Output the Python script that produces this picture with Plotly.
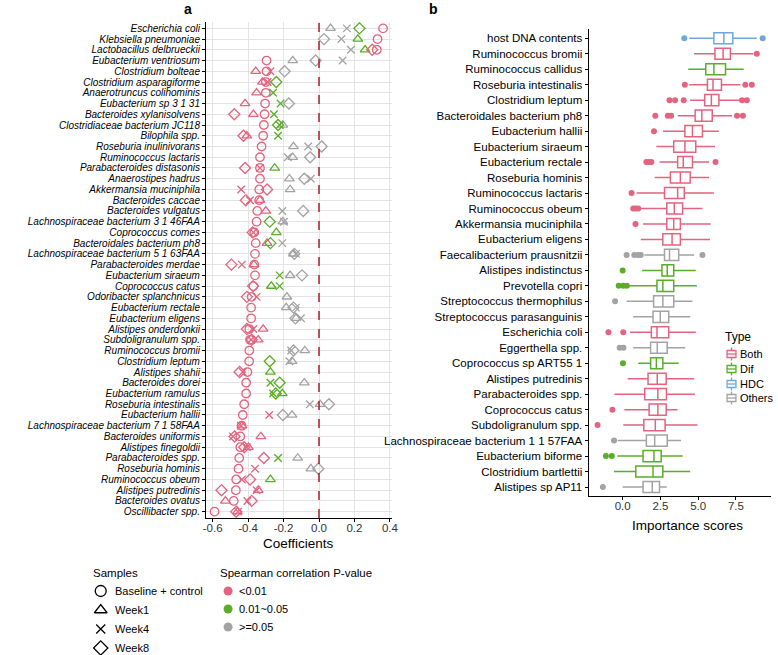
import plotly.graph_objects as go

W, H = 778, 655
RED, GREEN, GRAY, BLUE = "#E4637E", "#5AAE27", "#A3A3A3", "#6EA8DC"
FONT = "Liberation Sans, Arial, sans-serif"

# ---------------- Panel a data ----------------
species_a = [
    "Escherichia coli", "Klebsiella pneumoniae", "Lactobacillus delbrueckii",
    "Eubacterium ventriosum", "Clostridium bolteae", "Clostridium asparagiforme",
    "Anaerotruncus colihominis", "Eubacterium sp 3 1 31", "Bacteroides xylanisolvens",
    "Clostridiaceae bacterium JC118", "Bilophila spp.", "Roseburia inulinivorans",
    "Ruminococcus lactaris", "Parabacteroides distasonis", "Anaerostipes hadrus",
    "Akkermansia muciniphila", "Bacteroides caccae", "Bacteroides vulgatus",
    "Lachnospiraceae bacterium 3 1 46FAA", "Coprococcus comes", "Bacteroidales bacterium ph8",
    "Lachnospiraceae bacterium 5 1 63FAA", "Parabacteroides merdae", "Eubacterium siraeum",
    "Coprococcus catus", "Odoribacter splanchnicus", "Eubacterium rectale",
    "Eubacterium eligens", "Alistipes onderdonkii", "Subdoligranulum spp.",
    "Ruminococcus bromii", "Clostridium leptum", "Alistipes shahii", "Bacteroides dorei",
    "Eubacterium ramulus", "Roseburia intestinalis", "Eubacterium hallii",
    "Lachnospiraceae bacterium 7 1 58FAA", "Bacteroides uniformis", "Alistipes finegoldii",
    "Parabacteroides spp.", "Roseburia hominis", "Ruminococcus obeum",
    "Alistipes putredinis", "Bacteroides ovatus", "Oscillibacter spp.",
]
base_coef = [0.361, 0.33, 0.326, -0.296, -0.296, -0.30, -0.30, -0.304, -0.307, -0.311,
             -0.315, -0.324, -0.333, -0.333, -0.333, -0.337, -0.337, -0.348, -0.352, -0.365,
             -0.357, -0.361, -0.365, -0.361, -0.37, -0.38, -0.383, -0.383, -0.393, -0.389,
             -0.393, -0.394, -0.404, -0.411, -0.411, -0.422, -0.43, -0.437, -0.444, -0.444,
             -0.45, -0.454, -0.467, -0.469, -0.481, -0.589]
base_p = ["r"] * 46
week1_coef = [0.065, 0.219, 0.26, -0.148, -0.357, -0.319, -0.352, -0.417, -0.37, -0.204,
              -0.407, -0.144, -0.148, -0.25, -0.167, -0.163, -0.333, -0.30, -0.204, -0.241,
              -0.293, -0.144, -0.367, -0.163, -0.269, -0.181, -0.185, -0.13, -0.315, -0.343,
              -0.08, -0.152, -0.274, -0.083, -0.207, 0.006, -0.152, -0.435, -0.328, -0.398,
              -0.12, -0.046, -0.274, -0.343, -0.528, -0.46]
week1_p = ["k", "g", "g", "k", "r", "r", "r", "r", "r", "k",
           "r", "k", "k", "g", "k", "k", "r", "r", "k", "g",
           "r", "k", "r", "k", "g", "k", "k", "k", "r", "r",
           "k", "k", "g", "k", "g", "k", "k", "r", "r", "r",
           "k", "k", "g", "r", "r", "r"]
week4_coef = [0.157, 0.126, 0.18, 0.133, -0.274, -0.29, -0.259, -0.217, -0.254, -0.222,
              -0.231, -0.061, -0.176, -0.333, -0.046, -0.439, -0.389, -0.207, -0.198, -0.37,
              -0.207, -0.13, -0.435, -0.222, -0.222, -0.352, -0.13, -0.102, -0.37, -0.383,
              -0.157, -0.167, -0.43, -0.274, -0.259, -0.052, -0.281, -0.44, -0.485, -0.407,
              -0.231, -0.361, -0.435, -0.352, -0.404, -0.457]
week4_p = ["k", "k", "k", "k", "r", "r", "g", "g", "g", "g",
           "g", "k", "k", "r", "k", "r", "r", "k", "k", "r",
           "k", "k", "r", "g", "g", "r", "k", "k", "r", "r",
           "k", "k", "r", "g", "g", "k", "r", "r", "r", "r",
           "g", "r", "r", "r", "r", "r"]
week8_coef = [0.228, 0.028, 0.30, -0.019, -0.194, -0.241, None, -0.17, -0.478, -0.231,
              -0.426, 0.015, -0.05, -0.417, -0.083, -0.293, -0.413, -0.089, -0.278, -0.374,
              -0.274, -0.139, -0.494, -0.096, -0.372, -0.407, -0.144, -0.133, -0.407, -0.38,
              -0.144, -0.278, -0.448, -0.222, -0.244, 0.056, -0.204, None, -0.476, -0.422,
              -0.311, -0.004, -0.389, -0.55, -0.38, -0.467]
week8_p = ["g", "k", "r", "k", "k", "g", "k", "k", "r", "g",
           "r", "k", "k", "r", "k", "r", "r", "k", "g", "r",
           "g", "k", "r", "k", "r", "r", "k", "k", "r", "r",
           "k", "g", "r", "g", "g", "k", "k", "r", "r", "r",
           "r", "k", "r", "r", "r", "r"]

sample_names = ["Baseline + control", "Week1", "Week4", "Week8"]
p_labels = ["<0.01", "0.01~0.05", ">=0.05"]

# ---------------- Panel b data ----------------
species_b = [
    "host DNA contents", "Ruminococcus bromii", "Ruminococcus callidus", "Roseburia intestinalis",
    "Clostridium leptum", "Bacteroidales bacterium ph8", "Eubacterium hallii", "Eubacterium siraeum",
    "Eubacterium rectale", "Roseburia hominis", "Ruminococcus lactaris", "Ruminococcus obeum",
    "Akkermansia muciniphila", "Eubacterium eligens", "Faecalibacterium prausnitzii",
    "Alistipes indistinctus", "Prevotella copri", "Streptococcus thermophilus",
    "Streptococcus parasanguinis", "Escherichia coli", "Eggerthella spp.", "Coprococcus sp ART55 1",
    "Alistipes putredinis", "Parabacteroides spp.", "Coprococcus catus", "Subdoligranulum spp.",
    "Lachnospiraceae bacterium 1 1 57FAA", "Eubacterium biforme", "Clostridium bartlettii",
    "Alistipes sp AP11",
]
type_b = ["HDC", "Both", "Dif", "Both", "Both", "Both", "Both", "Both", "Both", "Both",
          "Both", "Both", "Both", "Both", "Others", "Dif", "Dif", "Others", "Others", "Both",
          "Others", "Dif", "Both", "Both", "Both", "Both", "Others", "Dif", "Dif", "Others"]
low_b = [4.41, 4.73, 4.34, 4.41, 4.47, 3.64, 2.66, 2.23, 2.44, 2.12,
         0.92, 1.13, 1.35, 1.20, 1.44, 1.29, 0.37, 0.26, 0.70, 0.48,
         0.70, 1.03, 0.33, -0.55, 0.11, 0.04, -0.33, -0.35, -0.57, 0.0]
q1_b = [6.04, 6.11, 5.50, 5.61, 5.43, 4.80, 4.12, 3.38, 3.64, 3.16,
        2.77, 2.92, 2.92, 2.66, 2.77, 2.60, 2.27, 2.05, 2.01, 1.90,
        1.85, 1.85, 1.68, 1.46, 1.75, 1.40, 1.57, 1.35, 0.87, 1.35]
med_b = [6.70, 6.65, 6.04, 5.98, 5.87, 5.24, 4.62, 4.12, 4.01, 3.82,
         3.64, 3.42, 3.38, 3.27, 3.10, 2.95, 2.66, 2.66, 2.49, 2.27,
         2.29, 2.23, 2.29, 2.33, 2.33, 2.16, 2.12, 2.07, 2.01, 1.96]
q3_b = [7.29, 7.13, 6.81, 6.54, 6.37, 5.93, 5.28, 4.84, 4.62, 4.47,
        4.08, 3.97, 3.82, 3.82, 3.71, 3.38, 3.38, 3.38, 3.05, 3.05,
        2.95, 2.66, 2.88, 2.90, 2.88, 2.81, 2.95, 2.55, 2.66, 2.44]
high_b = [8.88, 8.66, 8.01, 7.79, 7.79, 7.24, 6.37, 6.11, 5.72, 5.72,
          6.04, 5.28, 5.82, 5.78, 4.73, 4.84, 4.91, 4.62, 4.47, 4.84,
          4.14, 3.71, 4.73, 4.78, 3.64, 4.95, 3.86, 3.97, 4.47, 2.92]
outliers_b = [
    [4.08, 9.27], [8.88], [], [4.12, 8.12, 8.55], [3.10, 3.47, 4.04, 7.90, 8.22],
    [2.16, 2.99, 3.21, 7.57, 7.96], [2.07], [], [1.57, 1.75, 1.90, 6.15], [],
    [0.59], [0.70, 0.85, 1.03], [0.85], [], [0.26, 0.77, 1.0, 1.2, 5.28],
    [0.0], [-0.26, 0.04, 0.28], [-0.5], [], [-0.94, 0.04],
    [-0.2, 0.05], [0.02], [], [], [-0.68],
    [-1.66], [-0.57], [-1.11, -0.72], [], [-1.31],
]
type_names = ["Both", "Dif", "HDC", "Others"]

# ---------------- styles ----------------
pcol = {"r": RED, "g": GREEN, "k": GRAY}
tcol = {"Both": RED, "Dif": GREEN, "HDC": BLUE, "Others": GRAY}
symbols = ["circle-open", "triangle-up-open", "x-thin-open", "diamond-open"]


def pxx(x):
    return x / W


def pyy(y):
    return 1 - y / H


fig = go.Figure()

# Panel a points
for name, sym, coef, pc in zip(sample_names, symbols,
                               [base_coef, week1_coef, week4_coef, week8_coef],
                               [base_p, week1_p, week4_p, week8_p]):
    fig.add_trace(go.Scatter(
        x=coef, y=species_a, mode="markers", name=name, showlegend=False,
        xaxis="x", yaxis="y", hoverinfo="skip",
        marker=dict(symbol=sym, size=8.5 if sym != "x-thin-open" else 7.5,
                    color=[pcol[c] for c in pc],
                    line=dict(width=1.3, color=[pcol[c] for c in pc])),
    ))

# Panel b boxes
for t in type_names:
    idx = [i for i, tp in enumerate(type_b) if tp == t]
    fig.add_trace(go.Box(
        y=[species_b[i] for i in idx], q1=[q1_b[i] for i in idx],
        median=[med_b[i] for i in idx], q3=[q3_b[i] for i in idx],
        lowerfence=[low_b[i] for i in idx], upperfence=[high_b[i] for i in idx],
        orientation="h", xaxis="x2", yaxis="y2", name=t, showlegend=False,
        boxpoints=False, width=0.72, whiskerwidth=0,
        line=dict(color=tcol[t], width=1.5), fillcolor="rgba(255,255,255,0)",
        hoverinfo="skip",
    ))
    ox, oy = [], []
    for i in idx:
        for v in outliers_b[i]:
            ox.append(v)
            oy.append(species_b[i])
    fig.add_trace(go.Scatter(
        x=ox, y=oy, mode="markers", xaxis="x2", yaxis="y2", showlegend=False,
        marker=dict(color=tcol[t], size=6), hoverinfo="skip",
    ))

# Legend glyphs on overlay pixel axis
leg_sample_y = [591, 610, 629, 648]
for sym, yy in zip(symbols, leg_sample_y):
    fig.add_trace(go.Scatter(
        x=[99], y=[yy], mode="markers", xaxis="x3", yaxis="y3", showlegend=False,
        marker=dict(symbol=sym, size=11 if sym != "x-thin-open" else 9, color="black",
                    line=dict(width=1.3, color="black")), hoverinfo="skip"))
leg_p_y = [591, 609, 627]
for c, yy in zip(["r", "g", "k"], leg_p_y):
    fig.add_trace(go.Scatter(
        x=[228], y=[yy], mode="markers", xaxis="x3", yaxis="y3", showlegend=False,
        marker=dict(symbol="circle", size=9, color=pcol[c]), hoverinfo="skip"))

shapes = [
    dict(type="line", xref="x", yref="y domain", x0=0, x1=0, y0=0, y1=1,
         line=dict(color="#B2182B", width=1.5, dash="dash")),
]
type_y = [354, 369, 384, 398]
for t, yy in zip(type_names, type_y):
    c = tcol[t]
    shapes += [
        dict(type="rect", xref="paper", yref="paper", x0=pxx(733.5), x1=pxx(742.5),
             y0=pyy(yy + 3.5), y1=pyy(yy - 3.5), line=dict(color=c, width=1.3)),
        dict(type="line", xref="paper", yref="paper", x0=pxx(733.5), x1=pxx(742.5),
             y0=pyy(yy), y1=pyy(yy), line=dict(color=c, width=1.3)),
        dict(type="line", xref="paper", yref="paper", x0=pxx(738), x1=pxx(738),
             y0=pyy(yy - 6.5), y1=pyy(yy - 3.5), line=dict(color=c, width=1.3)),
        dict(type="line", xref="paper", yref="paper", x0=pxx(738), x1=pxx(738),
             y0=pyy(yy + 3.5), y1=pyy(yy + 6.5), line=dict(color=c, width=1.3)),
    ]

ann = []


def text(x, y, s, size=11, xanchor="left", bold=False):
    ann.append(dict(x=pxx(x), y=pyy(y), xref="paper", yref="paper", text=s,
                    showarrow=False, xanchor=xanchor, yanchor="middle",
                    font=dict(size=size, color="black", family=FONT,
                              weight="bold" if bold else "normal")))


text(187, 9, "a", 14, "center", True)
text(436, 9, "b", 14, "center", True)
text(299.5, 543, "Coefficients", 13.5, "center")
text(693, 525, "Importance scores", 13.5, "center")
text(89, 573, "Samples", 11.5)
for s, yy in zip(sample_names, leg_sample_y):
    text(111, yy, s, 11)
text(218, 573, "Spearman correlation P-value", 11.5)
for s, yy in zip(p_labels, leg_p_y):
    text(237, yy, s, 11)
text(729, 337, "Type", 12)
for s, yy in zip(type_names, type_y):
    text(745, yy, s, 11)

fig.update_layout(
    width=W, height=H, margin=dict(l=0, r=0, t=0, b=0),
    paper_bgcolor="white", plot_bgcolor="rgba(0,0,0,0)",
    font=dict(family=FONT, color="black"),
    boxmode="overlay", showlegend=False,
    shapes=shapes, annotations=ann,
    xaxis=dict(domain=[pxx(205.7), pxx(393.6)], range=[-0.637, 0.409], anchor="y",
               tickvals=[-0.6, -0.4, -0.2, 0.0, 0.2, 0.4],
               ticktext=["-0.6", "-0.4", "-0.2", "0.0", "0.2", "0.4"],
               showgrid=True, gridcolor="#E3E3E3", gridwidth=1, zeroline=False,
               showline=True, linecolor="black", linewidth=1.2, ticks="outside",
               ticklen=3, tickcolor="black", ticklabelstandoff=-4,
               tickfont=dict(size=11.5, color="#333")),
    yaxis=dict(domain=[pyy(518.1), pyy(21.9)], type="category", categoryarray=species_a,
               categoryorder="array", range=[45.6, -0.6], anchor="x",
               tickmode="array", tickvals=species_a, ticktext=species_a,
               showgrid=True, gridcolor="#E3E3E3", gridwidth=1, zeroline=False,
               showline=True, linecolor="black", linewidth=1.2, ticks="outside",
               ticklen=3, tickcolor="black",
               tickfont=dict(size=10, style="italic", color="black")),
    xaxis2=dict(domain=[pxx(593.3), 1.0], range=[-2.25, 9.82], anchor="y2",
                tickvals=[0, 2.5, 5.0, 7.5], ticktext=["0.0", "2.5", "5.0", "7.5"],
                showgrid=False, zeroline=False, showline=True, linecolor="black",
                linewidth=1.2, ticks="outside", ticklen=3, tickcolor="black",
                ticklabelstandoff=-4, tickfont=dict(size=11.5, color="#333")),
    yaxis2=dict(domain=[pyy(496.3), pyy(29)], type="category", categoryarray=species_b,
                categoryorder="array", range=[29.6, -0.6], anchor="x2",
                tickmode="array", tickvals=species_b, ticktext=species_b,
                showgrid=False, zeroline=False, showline=True, linecolor="black",
                linewidth=1.2, ticks="outside", ticklen=3, tickcolor="black",
                tickfont=dict(size=11.5, color="black")),
    xaxis3=dict(domain=[0, 1], range=[0, W], visible=False, anchor="y3", fixedrange=True),
    yaxis3=dict(domain=[0, 1], range=[H, 0], visible=False, anchor="x3", fixedrange=True),
)

fig.write_html("out.html", config={"displayModeBar": False},
               post_script="document.body.style.margin='0';")
